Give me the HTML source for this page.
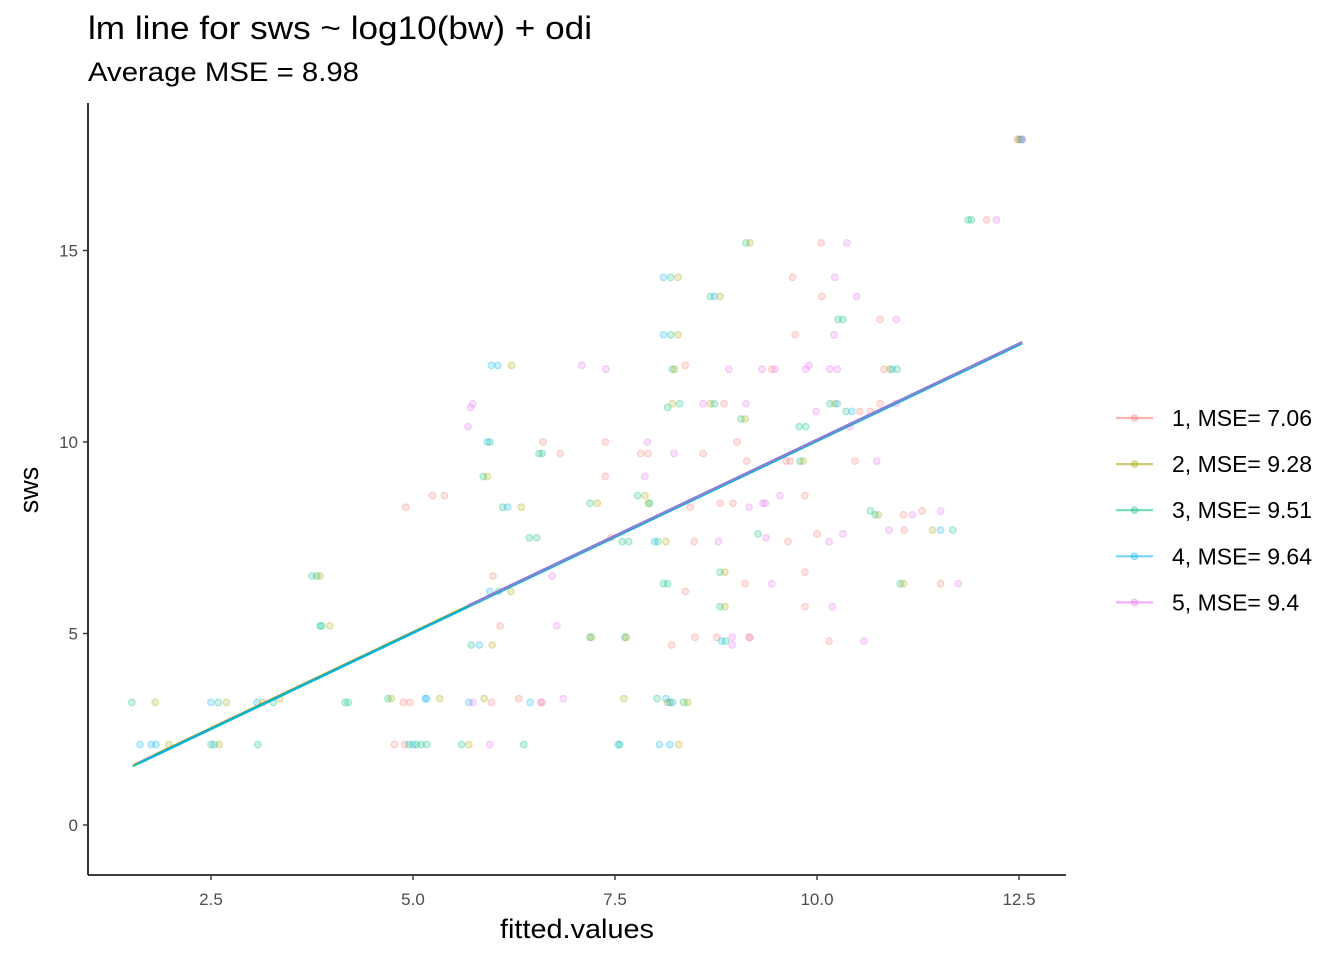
<!DOCTYPE html>
<html><head><meta charset="utf-8"><style>
body{margin:0;background:#fff;}
svg{display:block;font-family:"Liberation Sans",Arial,sans-serif;}
</style></head><body>
<svg id="chart" width="1344" height="960" viewBox="0 0 1344 960">
<text x="88" y="39" font-size="32" textLength="504" lengthAdjust="spacingAndGlyphs" fill="#000">lm line for sws ~ log10(bw) + odi</text>
<text x="88" y="81" font-size="27" textLength="271" lengthAdjust="spacingAndGlyphs" fill="#000">Average MSE = 8.98</text>
<g id="points"></g>
<g id="lines"></g>
<g id="axes"></g>
<text x="577" y="938" font-size="27" text-anchor="middle" textLength="154" lengthAdjust="spacingAndGlyphs" fill="#000">fitted.values</text>
<text x="0" y="0" font-size="27" text-anchor="middle" fill="#000" transform="translate(38,490) rotate(-90)">sws</text>
<g id="legend"></g>
</svg>
<script>
const foldColors=["#F8766D","#A3A500","#00BF7D","#00B0F6","#E76BF3"];
const foldLabels=["1, MSE= 7.06","2, MSE= 9.28","3, MSE= 9.51","4, MSE= 9.64","5, MSE= 9.4"];
const xTicks=[2.5,5.0,7.5,10.0,12.5];
const xTickLabels=["2.5","5.0","7.5","10.0","12.5"];
const yTicks=[0,5,10,15];
const yTickLabels=["0","5","10","15"];
const lineStart=[1.55,1.8,1.53,1.62,5.68];
const lineEnd=[12.48,12.5,12.52,12.54,12.54];
const lineIntercept=[0.02,0.02,0.0,0.0,0.03];
const lineSlope=[1.003,1.003,1.003,1.003,1.003];
const pts=[
[12.48,17.9,1],[12.5,17.9,2],[12.52,17.9,3],[12.54,17.9,4],[12.54,17.9,5],
[11.87,15.8,3],[11.91,15.8,3],[12.1,15.8,1],[12.22,15.8,5],
[9.12,15.2,3],[9.17,15.2,2],[10.05,15.2,1],[10.37,15.2,5],
[8.1,14.3,4],[8.19,14.3,3],[8.28,14.3,2],[9.7,14.3,1],[10.22,14.3,5],
[8.68,13.8,3],[8.73,13.8,4],[8.8,13.8,2],[10.06,13.8,1],[10.49,13.8,5],
[10.26,13.2,3],[10.32,13.2,3],[10.78,13.2,1],[10.98,13.2,5],
[8.1,12.8,4],[8.19,12.8,3],[8.28,12.8,2],[9.73,12.8,1],[10.21,12.8,5],
[5.97,12.0,4],[6.05,12.0,4],[6.22,12.0,2],[7.09,12.0,5],[8.37,12.0,1],[9.9,12.0,5],
[7.39,11.9,5],[8.21,11.9,3],[8.24,11.9,2],[8.91,11.9,5],[9.32,11.9,5],[9.44,11.9,1],[9.48,11.9,5],[9.86,11.9,5],[10.16,11.9,5],[10.25,11.9,5],[10.83,11.9,1],[10.9,11.9,2],[10.93,11.9,4],[10.99,11.9,3],
[5.74,11.0,5],[8.15,10.9,3],[8.21,11.0,2],[8.3,11.0,3],[8.59,11.0,5],[8.68,11.0,2],[8.73,11.0,3],[9.12,11.0,5],[10.16,11.0,3],[10.22,11.0,2],[10.25,11.0,4],[10.98,11.0,5],[5.71,10.9,5],[8.85,11.0,1],
[9.99,10.8,5],[10.36,10.8,3],[10.43,10.8,4],[10.53,10.8,1],[10.66,10.8,1],[10.78,11.0,1],
[9.06,10.6,3],[9.11,10.6,2],
[5.68,10.4,5],[9.78,10.4,3],[9.86,10.4,3],[10.41,10.4,5],
[5.92,10.0,4],[5.95,10.0,3],[6.61,10.0,1],[7.38,10.0,1],[7.9,10.0,5],[9.01,10.0,1],
[6.56,9.7,3],[6.6,9.7,3],[6.82,9.7,1],[7.82,9.7,1],[7.91,9.7,1],[8.23,9.7,5],[8.59,9.7,1],
[9.13,9.5,1],[9.62,9.5,1],[9.67,9.5,1],[9.79,9.5,3],[9.83,9.5,2],[10.47,9.5,1],[10.74,9.5,5],
[5.87,9.1,3],[5.92,9.1,2],[7.38,9.1,1],[7.87,9.1,5],
[5.24,8.6,1],[5.39,8.6,1],[7.78,8.6,3],[7.87,8.6,2],[9.54,8.6,5],[9.85,8.6,1],
[7.19,8.4,3],[7.28,8.4,2],[7.91,8.4,2],[7.93,8.4,3],[8.8,8.4,1],[8.96,8.4,1],[9.33,8.4,5],[9.36,8.4,5],
[4.91,8.3,1],[6.11,8.3,3],[6.17,8.3,4],[6.34,8.3,2],[8.43,8.3,1],[9.16,8.3,5],
[10.66,8.2,3],[10.72,8.1,3],[10.76,8.1,2],[11.07,8.1,1],[11.18,8.1,5],[11.3,8.2,1],[11.53,8.2,5],
[10.89,7.7,5],[11.08,7.7,1],[11.43,7.7,2],[11.53,7.7,4],[11.68,7.7,3],
[6.44,7.5,3],[6.53,7.5,3],[7.45,7.5,1],[8.48,7.4,1],[9.37,7.5,5],[9.64,7.4,1],
[7.59,7.4,3],[7.67,7.4,3],[7.99,7.4,4],[8.03,7.4,3],[8.13,7.4,2],[8.78,7.4,5],[9.27,7.6,3],[10.0,7.6,1],[10.15,7.4,5],[10.32,7.6,5],
[3.75,6.5,3],[3.81,6.5,3],[3.85,6.5,2],[5.99,6.5,1],[6.72,6.5,5],
[8.1,6.3,3],[8.15,6.3,3],[9.11,6.3,1],[9.44,6.3,5],[11.03,6.3,3],[11.07,6.3,2],[11.53,6.3,1],[11.75,6.3,5],
[5.95,6.1,4],[6.06,6.1,3],[6.21,6.1,2],[8.37,6.1,1],[9.85,6.6,1],[8.8,6.6,3],[8.86,6.6,2],
[8.8,5.7,3],[8.86,5.7,2],[9.85,5.7,1],[10.19,5.7,5],
[3.85,5.2,3],[3.87,5.2,3],[3.97,5.2,2],[6.08,5.2,1],[6.78,5.2,5],
[7.19,4.9,3],[7.21,4.9,2],[7.62,4.9,3],[7.64,4.9,2],[8.49,4.9,1],[8.76,4.9,1],[9.16,4.9,5],[8.95,4.9,5],[9.17,4.9,1],
[5.72,4.7,3],[5.82,4.7,4],[5.98,4.7,2],[8.2,4.7,1],[8.82,4.8,4],[8.87,4.8,3],[8.95,4.7,5],[10.58,4.8,5],[10.15,4.8,1],
[4.69,3.3,3],[4.73,3.3,2],[5.33,3.3,2],[5.88,3.3,2],[6.31,3.3,1],[6.86,3.3,5],[7.61,3.3,2],[8.02,3.3,3],[8.13,3.3,4],[5.15,3.3,4],[5.17,3.3,4],[3.35,3.3,2],
[1.52,3.2,3],[1.81,3.2,2],[2.5,3.2,4],[2.59,3.2,3],[2.69,3.2,2],[3.07,3.2,4],[3.14,3.2,2],[3.27,3.2,3],[4.16,3.2,3],[4.2,3.2,3],[4.88,3.2,1],[4.96,3.2,1],[5.69,3.2,4],[5.74,3.2,5],[5.97,3.2,1],[6.45,3.2,4],[6.58,3.2,5],[6.6,3.2,1],[8.15,3.2,2],[8.18,3.2,4],[8.21,3.2,3],[8.35,3.2,3],[8.4,3.2,2],
[1.62,2.1,4],[1.76,2.1,4],[1.82,2.1,4],[1.98,2.1,2],[2.5,2.1,3],[2.54,2.1,4],[2.6,2.1,2],[3.08,2.1,3],[4.77,2.1,1],[4.9,2.1,1],[4.95,2.1,3],[5.0,2.1,4],[5.04,2.1,3],[5.1,2.1,3],[5.17,2.1,3],[5.6,2.1,3],[5.69,2.1,2],[5.95,2.1,5],[6.37,2.1,3],[7.54,2.1,4],[7.56,2.1,3],[8.05,2.1,4],[8.18,2.1,4],[8.29,2.1,2]
];
const fitted=pts.map(p=>p[0]);
const swsVals=pts.map(p=>p[1]);
const folds=pts.map(p=>p[2]);

const NS="http://www.w3.org/2000/svg";
const X0=88,X1=1066,Y0=875,Y1=103;
function sx(v){return 211+(v-2.5)*80.8;}
function sy(v){return 825-v*38.3;}
function mk(tag,attrs,parent){const e=document.createElementNS(NS,tag);for(const k in attrs)e.setAttribute(k,attrs[k]);parent.appendChild(e);return e;}

const gp=document.getElementById('points');
for(let i=0;i<fitted.length;i++){
  const c=foldColors[folds[i]-1];
  const e=mk('circle',{cx:sx(fitted[i]),cy:sy(swsVals[i]),r:3.3,fill:c,'fill-opacity':0.2,stroke:c,'stroke-opacity':0.3,'stroke-width':1.2},gp);
  
  
}
const gl=document.getElementById('lines');
for(let f=0;f<5;f++){
  const a=lineStart[f],b=lineEnd[f];
  const col=(f===4)?'#8b7fd0':foldColors[f];
  const e=mk('line',{x1:sx(a),y1:sy(lineIntercept[f]+lineSlope[f]*a),x2:sx(b),y2:sy(lineIntercept[f]+lineSlope[f]*b),stroke:col,'stroke-opacity':(f===4?1:0.8),'stroke-width':2.4},gl);
  
  
}
const ga=document.getElementById('axes');
let e=mk('line',{x1:X0,y1:Y1,x2:X0,y2:Y0,stroke:'#000','stroke-width':1.6},ga);


e=mk('line',{x1:X0,y1:Y0,x2:X1,y2:Y0,stroke:'#000','stroke-width':1.6},ga);


xTicks.forEach((v,i)=>{
  mk('line',{x1:sx(v),y1:Y0,x2:sx(v),y2:Y0+5,stroke:'#333','stroke-width':1.4},ga);
  const t=mk('text',{x:sx(v),y:Y0+30,'font-size':17,'text-anchor':'middle',fill:'#4d4d4d'},ga);
  t.textContent=xTickLabels[i];
  
  
});
yTicks.forEach((v,i)=>{
  mk('line',{x1:X0-5,y1:sy(v),x2:X0,y2:sy(v),stroke:'#333','stroke-width':1.4},ga);
  const t=mk('text',{x:X0-10,y:sy(v)+6,'font-size':17,'text-anchor':'end',fill:'#4d4d4d'},ga);
  t.textContent=yTickLabels[i];
  
  
});
const lg=document.getElementById('legend');
foldLabels.forEach((lab,i)=>{
  const y=418+i*46.1;
  const g=mk('g',{},lg);
  
  
  mk('line',{x1:1116,y1:y,x2:1153,y2:y,stroke:foldColors[i],'stroke-opacity':0.55,'stroke-width':2.2},g);
  mk('circle',{cx:1134.5,cy:y,r:3.3,fill:foldColors[i],'fill-opacity':0.3,stroke:foldColors[i],'stroke-opacity':0.4},g);
  const t=mk('text',{x:1172,y:y+8,'font-size':23,fill:'#000'},g);
  t.textContent=lab;
});
</script>
</body></html>
